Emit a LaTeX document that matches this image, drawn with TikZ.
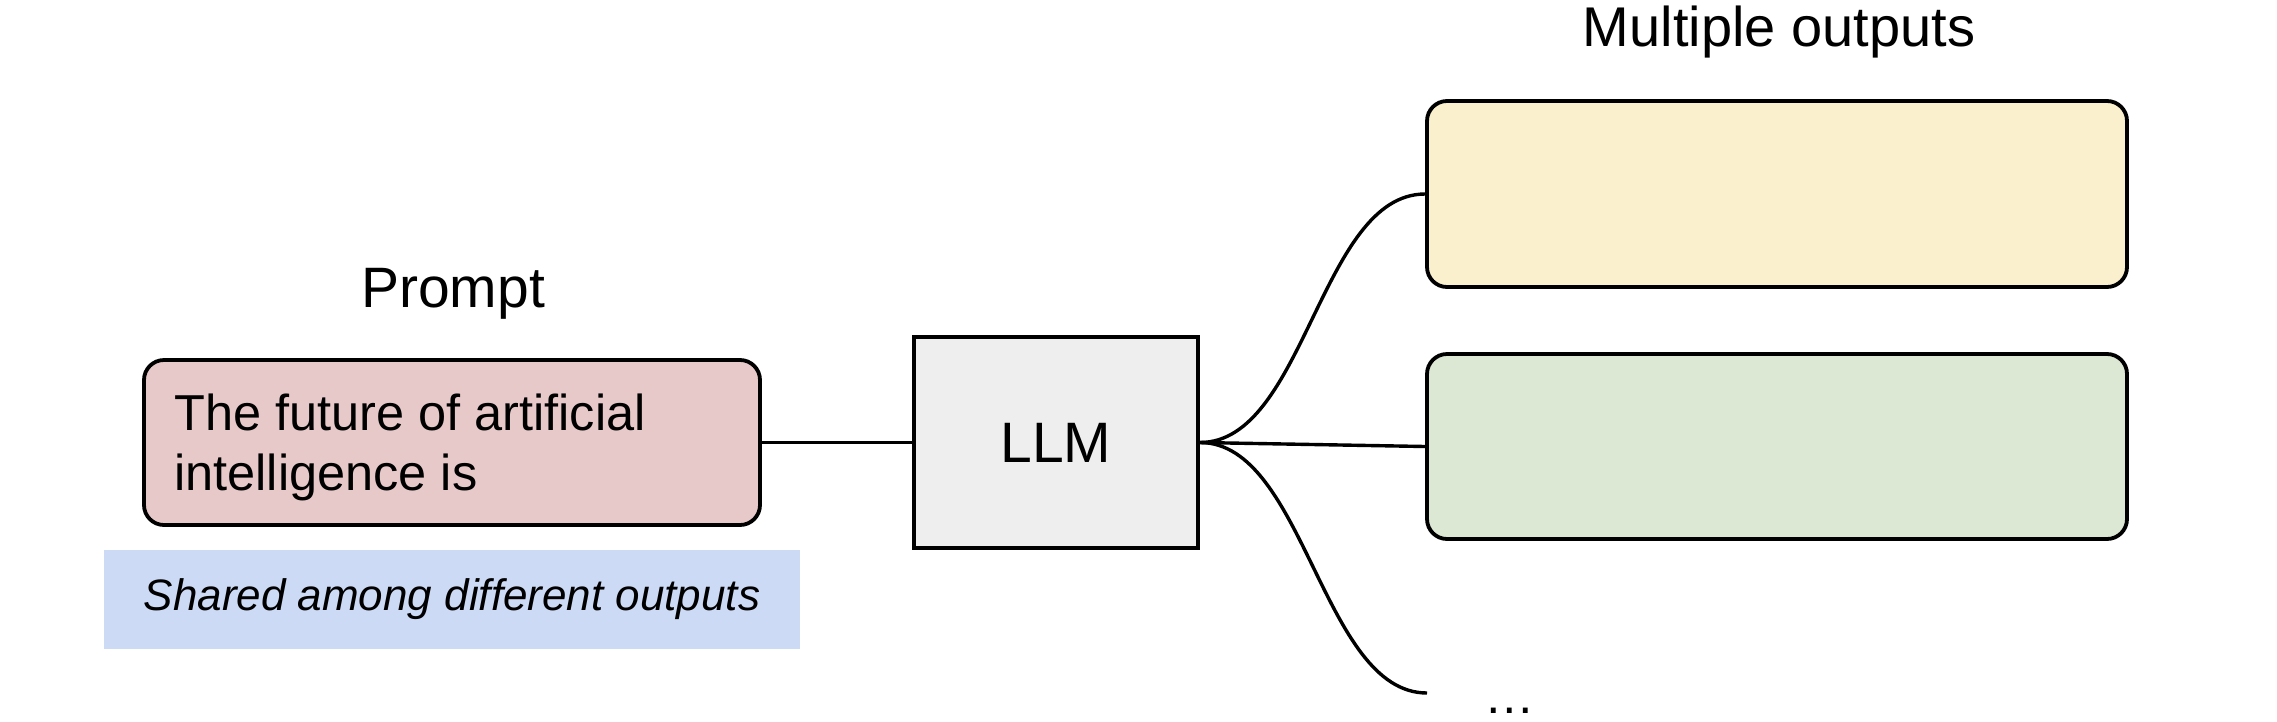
\documentclass[tikz,border=0pt]{standalone}
\usepackage{fontspec}
\setmainfont{Liberation Sans}
\definecolor{promptred}{HTML}{E8C9C9}
\definecolor{llmgray}{HTML}{EEEEEE}
\definecolor{sharedblue}{HTML}{CCDAF5}
\definecolor{outyellow}{HTML}{FAF0CD}
\definecolor{outgreen}{HTML}{DDE8D4}
\begin{document}
\begin{tikzpicture}[x=1pt,y=-1pt,
  box/.style={draw=black,line width=3.8pt,rounded corners=20pt,inner sep=0pt},
  conn/.style={draw=black,line width=3.4pt},
  title/.style={anchor=base,inner sep=0pt,font=\fontsize{57}{66}\selectfont},
  font=\fontsize{50.5}{60}\selectfont]
\useasboundingbox (0,0) rectangle (2277,721);
% prompt
\node[title] (promptlabel) at (453,307) {Prompt};
\node[box,fill=promptred,minimum width=616pt,minimum height=165pt] (prompt) at (452,442.5) {};
\node[anchor=base west,inner sep=0pt,align=left] (prompttext) at (174,490)
      {The future of artificial\\intelligence is};
\node[fill=sharedblue,inner sep=0pt,minimum width=696pt,minimum height=99pt,
      font=\fontsize{44}{52}\selectfont\itshape] (shared) at (452,599.5)
      {Shared among different outputs};
% LLM
\node[draw=black,line width=3.8pt,fill=llmgray,inner sep=0pt,
      minimum width=284pt,minimum height=211pt,
      font=\fontsize{57}{66}\selectfont] (llm) at (1056,442.5) {LLM};
% outputs
\node[title,font=\fontsize{56}{66}\selectfont] (outlabel) at (1779,46) {Multiple outputs};
\node[box,fill=outyellow,minimum width=700pt,minimum height=186pt] (out1) at (1777,194) {};
\node[box,fill=outgreen,minimum width=700pt,minimum height=185pt] (out2) at (1777,446.5) {};
\coordinate (more) at (1427,693);
\node[anchor=base west,inner sep=0pt] (dots) at (1484,713) {…};
% connectors
\draw[conn] (prompt.east) -- (llm.west);
\draw[conn] (llm.east) .. controls +(105,0) and +(-105,0) .. (out1.west);
\draw[conn] (llm.east) -- (out2.west);
\draw[conn] (llm.east) .. controls +(105,0) and +(-105,0) .. (more);
\end{tikzpicture}
\end{document}
